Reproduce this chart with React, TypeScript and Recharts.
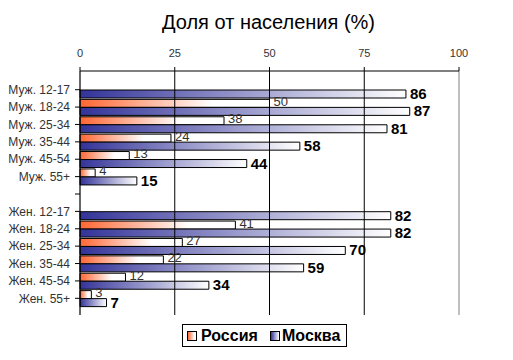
import React from 'react';
import { BarChart, Bar, XAxis, YAxis, LabelList, ReferenceLine } from 'recharts';

// Age groups (blank row separates men and women)
const categories = [
  'Муж. 12-17', 'Муж. 18-24', 'Муж. 25-34', 'Муж. 35-44', 'Муж. 45-54', 'Муж. 55+',
  '',
  'Жен. 12-17', 'Жен. 18-24', 'Жен. 25-34', 'Жен. 35-44', 'Жен. 45-54', 'Жен. 55+',
];
const russia = [null, 50, 38, 24, 13, 4, null, null, 41, 27, 22, 12, 3];
const moscow = [86, 87, 81, 58, 44, 15, null, 82, 82, 70, 59, 34, 7];
const xTicks = [0, 25, 50, 75, 100];
const gridValues = [25, 50, 75];

const data = categories.map((name, i) => ({ name, russia: russia[i], moscow: moscow[i] }));

const font = 'Arial, "Liberation Sans", sans-serif';

const RussiaLabel = (props: any) => {
  const { x, y, width, height, value } = props;
  if (value == null) return null;
  return (
    <text x={x + width + 4} y={y + height / 2 - 1} dominantBaseline="middle" fontSize={13} fill="#333" fontFamily={font}>
      {value}
    </text>
  );
};

const MoscowLabel = (props: any) => {
  const { x, y, width, height, value } = props;
  if (value == null) return null;
  return (
    <text x={x + width + 4} y={y + height / 2 + 1} dominantBaseline="middle" fontSize={15} fontWeight="bold" fill="#000" fontFamily={font}>
      {value}
    </text>
  );
};

export default function App() {
  return (
    <div style={{ position: 'absolute', left: 0, top: 0, width: 513, height: 360, background: '#fff', fontFamily: font }}>
      <div style={{ position: 'absolute', left: 0, width: 513, top: 11, textAlign: 'center', fontSize: 20, color: '#000', paddingLeft: 24, boxSizing: 'border-box' }}>
        Доля от населения (%)
      </div>
      <BarChart
        width={513}
        height={360}
        data={data}
        layout="vertical"
        margin={{ top: 40, right: 54, bottom: 45, left: 0 }}
        barGap={0}
      >
        <defs>
          <linearGradient id="gRus" x1="0" y1="0" x2="1" y2="0">
            <stop offset="0%" stopColor="#FF6633" />
            <stop offset="70%" stopColor="#FFFFFF" />
            <stop offset="100%" stopColor="#FFFFFF" />
          </linearGradient>
          <linearGradient id="gMos" x1="0" y1="0" x2="1" y2="0">
            <stop offset="0%" stopColor="#333399" />
            <stop offset="100%" stopColor="#FFFFFF" />
          </linearGradient>
        </defs>
        {gridValues.map((v) => (
          <ReferenceLine key={v} x={v} stroke="#000" strokeWidth={1} />
        ))}
        <ReferenceLine x={100} stroke="#808080" strokeWidth={1} />
        <XAxis
          type="number"
          orientation="top"
          domain={[0, 100]}
          ticks={xTicks}
          height={31}
          tickSize={4}
          tickMargin={10}
          axisLine={{ stroke: '#000', strokeWidth: 1.2 }}
          tickLine={{ stroke: '#000' }}
          tick={{ fontSize: 11, fill: '#333', fontFamily: font }}
        />
        <XAxis
          xAxisId="bottom"
          type="number"
          orientation="bottom"
          domain={[0, 100]}
          height={0}
          tick={false}
          tickLine={false}
          axisLine={{ stroke: '#808080', strokeWidth: 1 }}
        />
        <YAxis
          type="category"
          dataKey="name"
          width={80}
          tickSize={5}
          tickMargin={5}
          padding={{ top: 10, bottom: 8 }}
          interval={0}
          axisLine={{ stroke: '#000', strokeWidth: 1.2 }}
          tickLine={{ stroke: '#000' }}
          tick={{ fontSize: 12, fill: '#333', fontFamily: font }}
        />
        <Bar dataKey="russia" fill="url(#gRus)" stroke="#000" strokeWidth={1} barSize={8} isAnimationActive={false}>
          <LabelList dataKey="russia" content={<RussiaLabel />} />
        </Bar>
        <Bar dataKey="moscow" fill="url(#gMos)" stroke="#000" strokeWidth={1} barSize={8} isAnimationActive={false}>
          <LabelList dataKey="moscow" content={<MoscowLabel />} />
        </Bar>
      </BarChart>
      <div
        style={{
          position: 'absolute', left: 182, top: 324, width: 165, height: 23, boxSizing: 'border-box',
          border: '1px solid #000', fontSize: 16, fontWeight: 'bold', color: '#000',
        }}
      >
        <span style={{ position: 'absolute', left: 4, top: 6, width: 8, height: 8, border: '1px solid #000', background: 'linear-gradient(to right, #FF6633, #fff 80%)' }} />
        <span style={{ position: 'absolute', left: 18, top: 1, lineHeight: '20px' }}>Россия</span>
        <span style={{ position: 'absolute', left: 87, top: 6, width: 8, height: 8, border: '1px solid #000', background: 'linear-gradient(to right, #333399, #fff)' }} />
        <span style={{ position: 'absolute', left: 99, top: 1, lineHeight: '20px' }}>Москва</span>
      </div>
    </div>
  );
}
